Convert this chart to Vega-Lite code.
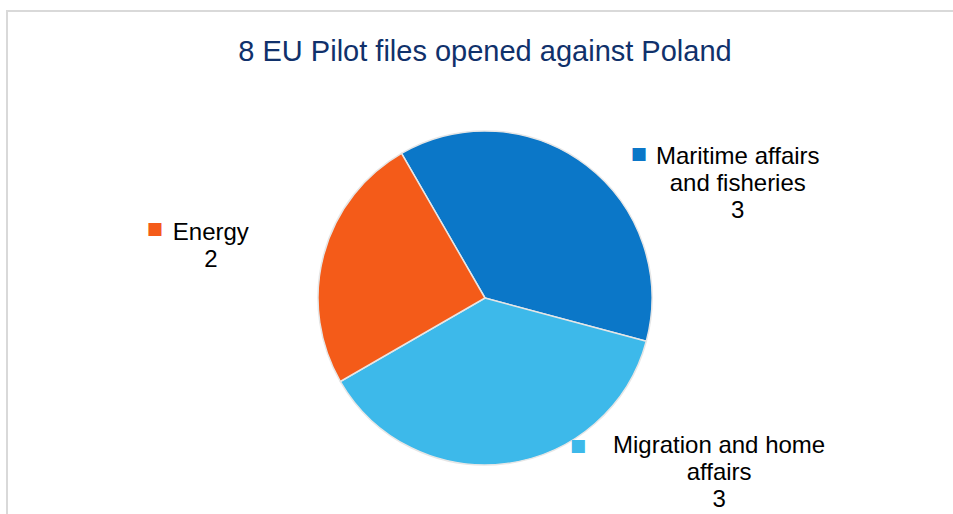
{
  "$schema": "https://vega.github.io/schema/vega-lite/v6.json",
  "width": 936,
  "height": 432,
  "autosize": {"type": "none"},
  "padding": {"left": 17, "top": 82, "right": 0, "bottom": 0},
  "background": "white",
  "config": {"view": {"stroke": null}},
  "title": {
    "text": "8 EU Pilot files opened against Poland",
    "fontSize": 29,
    "font": "Liberation Sans",
    "fontWeight": "normal",
    "color": "#10316B",
    "anchor": "middle",
    "frame": "group",
    "offset": -58
  },
  "data": {
    "values": [
      {"category": "Maritime affairs and fisheries", "files": 3, "label": ["Maritime affairs", "and fisheries", "3"]},
      {"category": "Migration and home affairs", "files": 3, "label": ["Migration and home", "affairs", "3"]},
      {"category": "Energy", "files": 2, "label": ["Energy", "2"]}
    ]
  },
  "layer": [
    {
      "data": {"values": [{"frame": "top edge"}]},
      "mark": {"type": "rule", "stroke": "#d9d9d9", "strokeWidth": 2},
      "encoding": {
        "x": {"value": -11},
        "x2": {"value": {"expr": "width + 40"}},
        "y": {"value": -71}
      }
    },
    {
      "data": {"values": [{"frame": "left edge"}]},
      "mark": {"type": "rule", "stroke": "#d9d9d9", "strokeWidth": 2},
      "encoding": {
        "x": {"value": -10},
        "y": {"value": -72},
        "y2": {"value": {"expr": "height + 40"}}
      }
    },
    {
      "encoding": {
        "theta": {"field": "files", "type": "quantitative", "stack": true, "scale": {"range": [-2.0944, 4.18879]}},
        "order": {"field": "category", "type": "ordinal"}
      },
      "layer": [
        {
          "mark": {"type": "arc", "outerRadius": 167, "stroke": "#e6e6e6", "strokeWidth": 1.5},
          "encoding": {
            "color": {
              "field": "category", "type": "nominal", "legend": null,
              "scale": {"domain": ["Maritime affairs and fisheries", "Migration and home affairs", "Energy"], "range": ["#0B77C8", "#3DB9EA", "#F45B19"]}
            }
          }
        },
        {
          "mark": {"type": "text", "radius": 200, "dx": 131, "dy": 18, "fontSize": 24, "font": "Liberation Sans", "align": "center", "baseline": "middle", "lineHeight": 27, "color": "#000000"},
          "encoding": {
            "detail": {"field": "category"},
            "text": {"field": "label"},
            "opacity": {"condition": {"test": "datum.category === 'Maritime affairs and fisheries'", "value": 1}, "value": 0}
          }
        },
        {
          "mark": {"type": "text", "radius": 200, "dx": -81, "dy": -13, "fontSize": 24, "font": "Liberation Sans", "align": "center", "baseline": "middle", "lineHeight": 27, "color": "#000000"},
          "encoding": {
            "detail": {"field": "category"},
            "text": {"field": "label"},
            "opacity": {"condition": {"test": "datum.category === 'Energy'", "value": 1}, "value": 0}
          }
        },
        {
          "mark": {"type": "text", "radius": 200, "dx": 208, "dy": -50, "fontSize": 24, "font": "Liberation Sans", "align": "center", "baseline": "middle", "lineHeight": 27, "color": "#000000"},
          "encoding": {
            "detail": {"field": "category"},
            "text": {"field": "label"},
            "opacity": {"condition": {"test": "datum.category === 'Migration and home affairs'", "value": 1}, "value": 0}
          }
        },
        {
          "mark": {"type": "text", "radius": 200, "dx": 32, "dy": 15, "fontSize": 17, "font": "DejaVu Sans", "align": "center", "baseline": "middle", "text": "■"},
          "encoding": {
            "color": {"field": "category", "type": "nominal", "legend": null},
            "opacity": {"condition": {"test": "datum.category === 'Maritime affairs and fisheries'", "value": 1}, "value": 0}
          }
        },
        {
          "mark": {"type": "text", "radius": 200, "dx": -137, "dy": -17, "fontSize": 17, "font": "DejaVu Sans", "align": "center", "baseline": "middle", "text": "■"},
          "encoding": {
            "color": {"field": "category", "type": "nominal", "legend": null},
            "opacity": {"condition": {"test": "datum.category === 'Energy'", "value": 1}, "value": 0}
          }
        },
        {
          "mark": {"type": "text", "radius": 200, "dx": 67, "dy": -50, "fontSize": 17, "font": "DejaVu Sans", "align": "center", "baseline": "middle", "text": "■"},
          "encoding": {
            "color": {"field": "category", "type": "nominal", "legend": null},
            "opacity": {"condition": {"test": "datum.category === 'Migration and home affairs'", "value": 1}, "value": 0}
          }
        }
      ]
    }
  ]
}
